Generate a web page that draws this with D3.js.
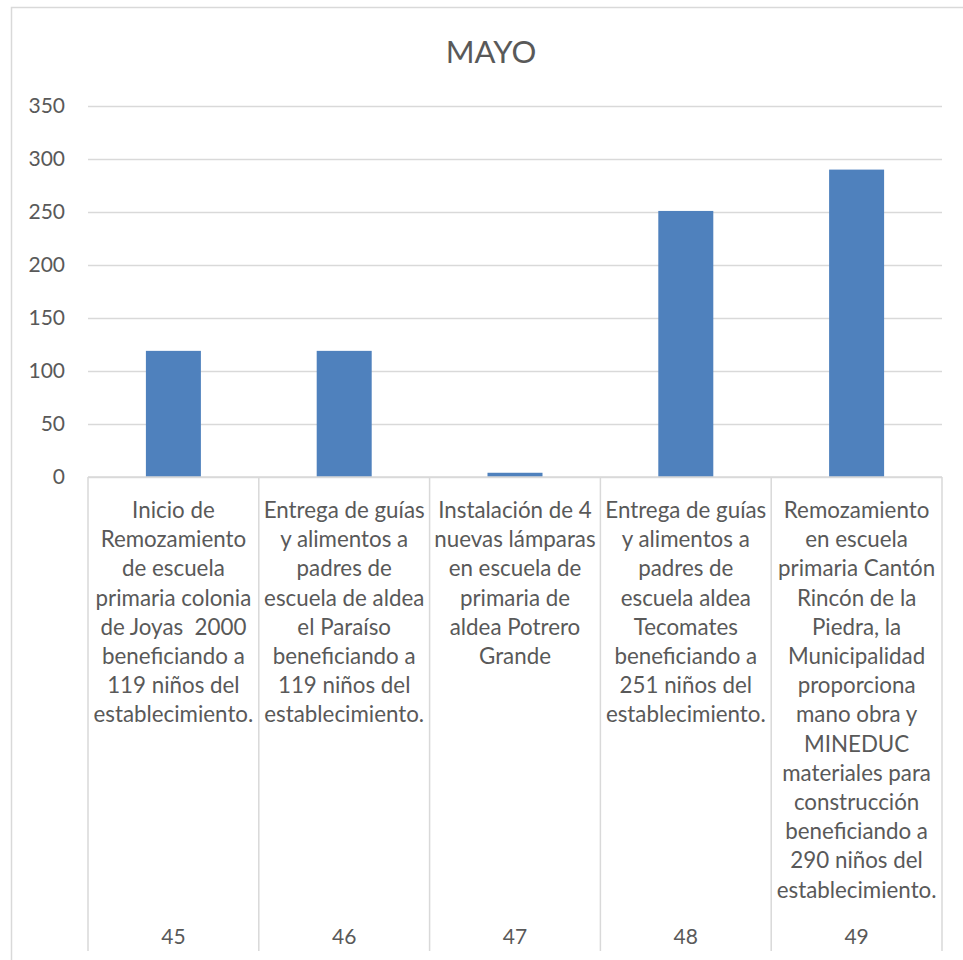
<!DOCTYPE html>
<html>
<head>
<meta charset="utf-8">
<script src="https://cdn.jsdelivr.net/npm/d3@7/dist/d3.min.js"></script>
<style>
  html, body { margin: 0; padding: 0; background: #fff; }
  svg { display: block; }
  text { white-space: pre; }
</style>
</head>
<body>
<svg id="chart" width="963" height="960"></svg>
<script>
const title = "MAYO";
const categories = ["45", "46", "47", "48", "49"];
const descriptions = [
  ["Inicio de", "Remozamiento", "de escuela", "primaria colonia", "de Joyas  2000", "beneficiando a", "119 niños del", "establecimiento."],
  ["Entrega de guías", "y alimentos a", "padres de", "escuela de aldea", "el Paraíso", "beneficiando a", "119 niños del", "establecimiento."],
  ["Instalación de 4", "nuevas lámparas", "en escuela de", "primaria de", "aldea Potrero", "Grande"],
  ["Entrega de guías", "y alimentos a", "padres de", "escuela aldea", "Tecomates", "beneficiando a", "251 niños del", "establecimiento."],
  ["Remozamiento", "en escuela", "primaria Cantón", "Rincón de la", "Piedra, la", "Municipalidad", "proporciona", "mano obra y", "MINEDUC", "materiales para", "construcción", "beneficiando a", "290 niños del", "establecimiento."]
];
const values = [119, 119, 4, 251, 290];
const yTicks = [0, 50, 100, 150, 200, 250, 300, 350];

const svg = d3.select("#chart");
const FONT = "Lato, 'Open Sans', sans-serif";
const textColor = "#595959";
const gridColor = "#d9d9d9";

const plot = { left: 88, right: 942, top: 106, bottom: 477 };

// outer chart border
svg.append("rect")
  .attr("x", 11.5).attr("y", 7.5)
  .attr("width", 1000).attr("height", 1000)
  .attr("fill", "#fff").attr("stroke", gridColor).attr("stroke-width", 1.5);

const x = d3.scaleBand().domain(categories).range([plot.left, plot.right]).paddingInner(0).paddingOuter(0);
const y = d3.scaleLinear().domain([0, 350]).range([plot.bottom, plot.top]);

// title
svg.append("text")
  .attr("x", 491).attr("y", 63)
  .attr("text-anchor", "middle")
  .attr("font-family", FONT).attr("font-size", 31)
  .attr("fill", textColor)
  .text(title);

// y axis (gridlines + labels)
const yAxis = d3.axisLeft(y).tickValues(yTicks).tickSize(-(plot.right - plot.left)).tickPadding(23);
const gy = svg.append("g").attr("transform", `translate(${plot.left},0)`).call(yAxis);
gy.select(".domain").remove();
gy.selectAll(".tick line").attr("stroke", gridColor).attr("stroke-width", 1.5);
gy.selectAll(".tick text")
  .attr("font-family", FONT).attr("font-size", 21).attr("fill", textColor);

// bars
const barW = 55;
svg.append("g").selectAll("rect")
  .data(values)
  .join("rect")
  .attr("x", (d, i) => x(categories[i]) + x.bandwidth() / 2 - barW / 2)
  .attr("y", d => y(d))
  .attr("width", barW)
  .attr("height", d => y(0) - y(d))
  .attr("fill", "#4f81bd");

// x axis baseline
svg.append("line")
  .attr("x1", plot.left).attr("x2", plot.right)
  .attr("y1", plot.bottom).attr("y2", plot.bottom)
  .attr("stroke", gridColor).attr("stroke-width", 1.5);

// category separators
const bounds = categories.map(c => x(c)).concat([plot.right]);
svg.append("g").selectAll("line")
  .data(bounds)
  .join("line")
  .attr("x1", d => d).attr("x2", d => d)
  .attr("y1", plot.bottom).attr("y2", 951)
  .attr("stroke", gridColor).attr("stroke-width", 1.5);

// fit description font to Calibri-like width
const probe = svg.append("text").attr("font-family", FONT).attr("font-size", 24).text("establecimiento.");
const w24 = probe.node().getComputedTextLength();
probe.remove();
const descSize = Math.min(24, 24 * 160 / w24);

const lineH = 29.2;
const desc = svg.append("g");
descriptions.forEach((lines, i) => {
  const cx = x(categories[i]) + x.bandwidth() / 2;
  const t = desc.append("text")
    .attr("text-anchor", "middle")
    .attr("xml:space", "preserve")
    .attr("font-family", FONT).attr("font-size", descSize)
    .attr("fill", textColor);
  lines.forEach((ln, j) => {
    t.append("tspan").attr("x", cx).attr("y", 518 + j * lineH).text(ln);
  });
});

// category numbers
svg.append("g").selectAll("text")
  .data(categories)
  .join("text")
  .attr("x", d => x(d) + x.bandwidth() / 2)
  .attr("y", 944)
  .attr("text-anchor", "middle")
  .attr("font-family", FONT).attr("font-size", 21)
  .attr("fill", textColor)
  .text(d => d);
</script>
</body>
</html>
